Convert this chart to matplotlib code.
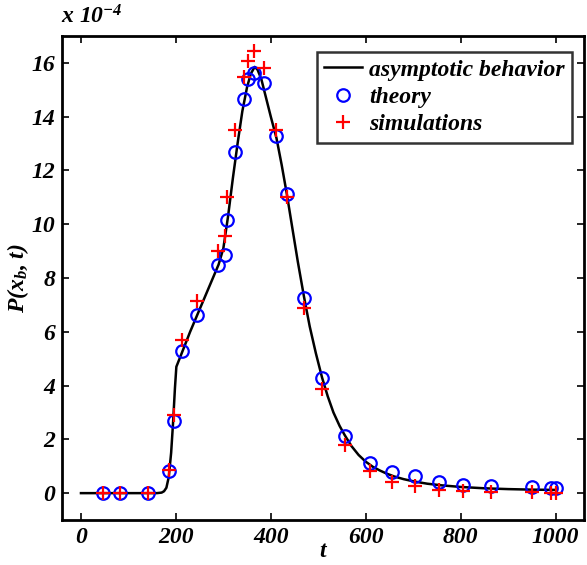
import numpy as np
import matplotlib
matplotlib.use("Agg")
import matplotlib.pyplot as plt

plt.rcParams["font.family"] = ["Liberation Serif", "DejaVu Serif"]
plt.rcParams["font.weight"] = "bold"
plt.rcParams["font.style"] = "italic"
plt.rcParams["mathtext.fontset"] = "custom"
plt.rcParams["mathtext.rm"] = "Liberation Serif:bold:italic"
plt.rcParams["mathtext.it"] = "Liberation Serif:bold:italic"
plt.rcParams["mathtext.bf"] = "Liberation Serif:bold:italic"

# values in units of 1e-4
curve_t = [0, 100, 160, 170, 175, 180, 185, 190, 194, 198, 201, 210, 230, 260,
           290, 300, 310, 320, 330, 340, 350, 358, 366, 372, 380, 390, 400,
           412, 423, 434, 445, 457, 470, 482, 495, 508, 520, 532, 545, 556,
           570, 585, 600, 615, 630, 645, 660, 680, 703, 730, 760, 800, 850,
           900, 950, 1000]
curve_p = [0, 0, 0, 0.02, 0.07, 0.2, 0.6, 1.5, 2.6, 3.9, 4.7, 5.1, 6.0, 7.25,
           8.5, 9.1, 10.3, 11.7, 13.0, 14.2, 15.1, 15.6, 15.85, 15.75, 15.4,
           14.7, 14.0, 13.2, 12.2, 11.1, 9.9, 8.6, 7.3, 6.2, 5.2, 4.3, 3.6,
           3.0, 2.5, 2.15, 1.75, 1.42, 1.17, 0.98, 0.84, 0.72, 0.62, 0.52,
           0.43, 0.35, 0.29, 0.23, 0.18, 0.15, 0.13, 0.12]

pts_t = [46, 83, 141, 185, 196, 212, 245, 288, 303, 308, 325, 344, 352, 364,
         386, 412, 434, 470, 508, 556, 608, 656, 703, 755, 805, 865, 950, 990,
         1000]
theory_p = [0, 0, 0, 0.81, 2.68, 5.27, 6.63, 8.49, 8.87, 10.14, 12.68, 14.64,
            15.4, 15.63, 15.24, 13.29, 11.12, 7.26, 4.28, 2.14, 1.13, 0.79,
            0.63, 0.43, 0.32, 0.25, 0.22, 0.2, 0.2]
sim_p = [0, 0, 0, 0.87, 2.92, 5.7, 7.13, 9.0, 9.58, 11.0, 13.52, 15.49,
         16.06, 16.46, 15.8, 13.5, 11.03, 6.89, 3.87, 1.8, 0.82, 0.43, 0.25,
         0.13, 0.08, 0.05, 0.04, 0.02, 0.02]

fig = plt.figure(figsize=(5.87, 5.65), dpi=100)
ax = fig.add_axes([0.1056, 0.0796, 0.8893, 0.8567])

ax.plot(curve_t, curve_p, "-", color="black", lw=1.8, label="asymptotic behavior")
ax.plot(pts_t, theory_p, "o", mfc="none", mec="blue", mew=1.6, ms=9,
        label="theory", zorder=3)
ax.plot(pts_t, sim_p, "+", color="red", mew=1.6, ms=10,
        label="simulations", zorder=4)

ax.set_xlim(-40, 1060)
ax.set_ylim(-1, 17)
ax.set_xticks(range(0, 1001, 200))
ax.set_yticks(range(0, 17, 2))
ax.tick_params(direction="in", top=True, right=True, labelsize=17,
               width=1.2, length=5, pad=5)
for lab in ax.get_xticklabels() + ax.get_yticklabels():
    lab.set_fontweight("bold")
    lab.set_fontstyle("italic")
for sp in ax.spines.values():
    sp.set_linewidth(2)

ax.set_xlabel("t", fontsize=17, fontweight="bold", fontstyle="italic",
              labelpad=-5)
ax.set_ylabel(r"P(x$_b$, t)", fontsize=17, fontweight="bold",
              fontstyle="italic", labelpad=0)
fig.text(0.104, 0.95, r"x 10$^{-4}$", fontsize=17, fontweight="bold",
         fontstyle="italic", ha="left", va="bottom")

leg = ax.legend(loc="upper right", bbox_to_anchor=(0.977, 0.967),
                prop={"family": "Liberation Serif", "weight": "bold",
                      "style": "italic", "size": 17},
                frameon=True, fancybox=False, handlelength=1.6,
                handletextpad=0.3, borderpad=0.3, labelspacing=0.25,
                borderaxespad=0.0)
leg.get_frame().set_edgecolor("black")
leg.get_frame().set_linewidth(1.8)

fig.savefig("out.png", dpi=100)
